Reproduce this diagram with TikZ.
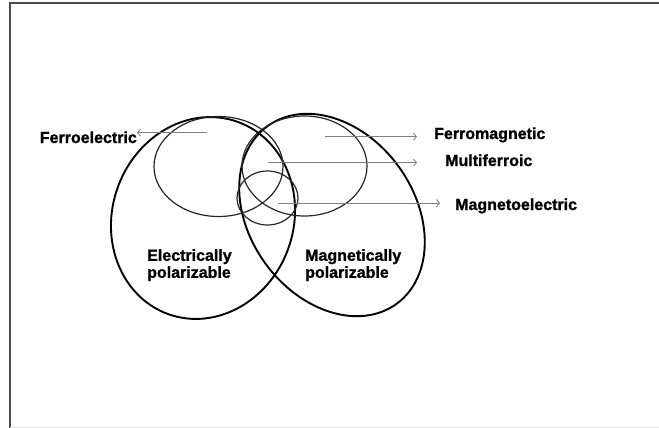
\documentclass[tikz,border=0pt]{standalone}
\usepackage{fontspec}
\setmainfont{Liberation Sans}[BoldFeatures={FakeBold=1.2}]
\usetikzlibrary{arrows.meta,positioning,calc}
\definecolor{FrameGray}{HTML}{4A4A4A}
\definecolor{ArrowGray}{HTML}{808080}
\definecolor{EdgeGray}{HTML}{E4E4E4}

\begin{document}
\begin{tikzpicture}[x=1pt,y=-1pt,>={Straight Barb[length=3pt,width=7pt]},
  bigset/.style={line width=1.9pt,black},
  subset/.style={line width=1.2pt,black!85},
  pointer/.style={->,ArrowGray,line width=0.8pt},
  settext/.style={font=\fontsize{16}{17}\selectfont\bfseries,inner sep=0pt}]
  \useasboundingbox (0,0) rectangle (659,428);
  % slide frame
  \draw[FrameGray,line width=1.9pt] (10,428) -- (10,3);
  \draw[FrameGray,line width=1.3pt] (9,3) -- (659,3);
  \draw[EdgeGray] (10,427) -- (659,427);
  % the two polarizable sets
  \draw[bigset,rotate around={-20:(203,218)}] (203,218) ellipse [x radius=90.6,y radius=102.2];
  \draw[bigset,rotate around={36:(332,215)}] (332,215) ellipse [x radius=82.4,y radius=109.8];
  % ferroic subsets
  \draw[subset] (218.5,166.5) ellipse [x radius=64.5,y radius=50];
  \draw[subset] (304.5,166) ellipse [x radius=62.5,y radius=50];
  \draw[subset] (267.5,198) ellipse [x radius=30.5,y radius=27];
  % names
  \node[settext,anchor=base east] (ferroel) at (137,143) {Ferroelectric};
  \node[settext,anchor=base west] (ferromag) at (434,139) {Ferromagnetic};
  \node[settext,anchor=base west] (multi) at (445,166) {Multiferroic};
  \node[settext,anchor=base west] (magel) at (455,210) {Magnetoelectric};
  \node[settext,align=left,anchor=north west] (elpol) at (147,249) {Electrically\\polarizable};
  \node[settext,align=left,anchor=north west] (magpol) at (305,249) {Magnetically\\polarizable};
  % pointers out of the regions
  \coordinate (fesrc) at (207,132.7);
  \coordinate (fmsrc) at (325,136.7);
  \coordinate (mfsrc) at (268,162.7);
  \coordinate (mesrc) at (278,203);
  \draw[pointer] (fesrc) -- (fesrc -| ferroel.east);
  \draw[pointer,shorten >=17pt] (fmsrc) -- (fmsrc -| ferromag.west);
  \draw[pointer,shorten >=28pt] (mfsrc) -- (mfsrc -| multi.west);
  \draw[pointer,shorten >=15pt] (mesrc) -- (mesrc -| magel.west);
\end{tikzpicture}
\end{document}
